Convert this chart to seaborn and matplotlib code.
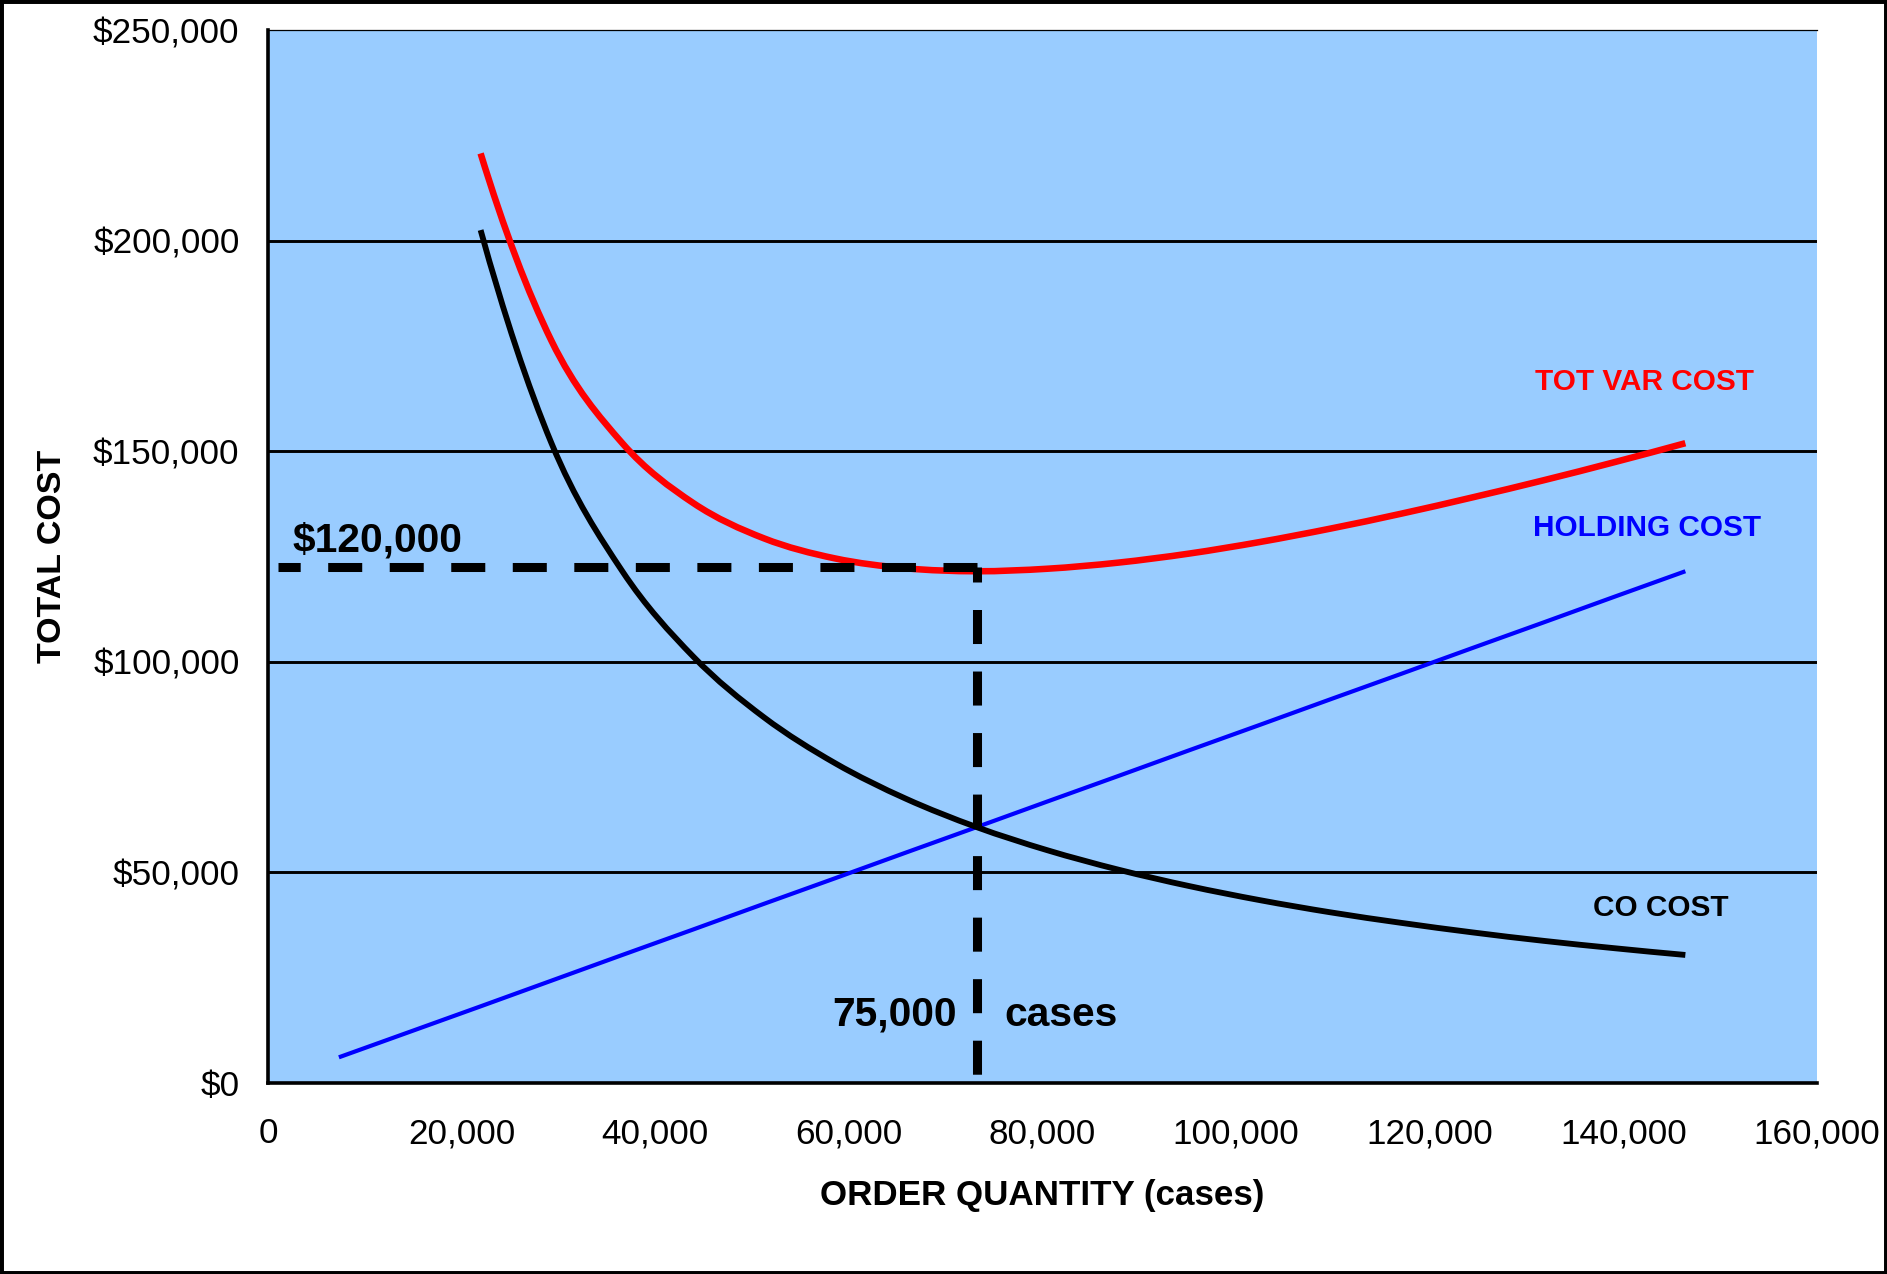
import matplotlib
matplotlib.use("Agg")
import matplotlib.pyplot as plt
from matplotlib.patches import Rectangle, PathPatch
from matplotlib.path import Path
from matplotlib.ticker import FuncFormatter, MultipleLocator
import numpy as np
import pandas as pd
import seaborn as sns

# Order quantities (cases) at which the costs were evaluated
order_qty = [7320, 14640, 21960, 29280, 36600, 43920, 51240, 58560, 65880, 73200,
             80520, 87840, 95160, 102480, 109800, 117120, 124440, 131760, 139080, 146400]

# Annual holding cost at each order quantity
holding_cost = [6100, 12150, 18200, 24300, 30400, 36450, 42550, 48600, 54700, 60750,
                66850, 72900, 79000, 85050, 91150, 97200, 103300, 109350, 115450, 121500]

# Ordering (CO) cost and total variable cost, available from the third quantity on
co_qty = order_qty[2:]
co_cost = [202500, 151900, 121500, 101250, 86800, 75950, 67500, 60750, 55250, 50650,
           46750, 43400, 40500, 38000, 35750, 33750, 32000, 30400]
tot_var_cost = [220700, 176200, 151900, 137700, 129300, 124550, 122200, 121500, 122100,
                123550, 125700, 128450, 131650, 135200, 139050, 143100, 147400, 151900]

# Optimum marked on the chart
opt_qty = 73200
opt_cost = 122500

sns.set_theme(style="white")
plt.rcParams["font.family"] = ["Liberation Sans", "DejaVu Sans"]
plt.rcParams["lines.scale_dashes"] = False
plt.rcParams["text.color"] = "black"
plt.rcParams["axes.labelcolor"] = "black"


def smooth_line(ax, xs, ys, color, lw, zorder=4):
    """Draw a series as a smoothed line: cubic Bezier segments through every point,
    Catmull-Rom tangents inside and parabolic tangents at both ends."""
    p = np.column_stack([np.asarray(xs, float), np.asarray(ys, float)])
    n = len(p)
    tang = np.zeros_like(p)
    tang[1:-1] = (p[2:] - p[:-2]) / 2.0
    tang[0] = 2.0 * (p[1] - p[0]) - tang[1]
    tang[-1] = 2.0 * (p[-1] - p[-2]) - tang[-2]
    verts = [tuple(p[0])]
    codes = [Path.MOVETO]
    for i in range(n - 1):
        c1 = p[i] + tang[i] / 3.0
        c2 = p[i + 1] - tang[i + 1] / 3.0
        verts += [tuple(c1), tuple(c2), tuple(p[i + 1])]
        codes += [Path.CURVE4] * 3
    patch = PathPatch(Path(verts, codes), fill=False, edgecolor=color, lw=lw,
                      capstyle="butt", joinstyle="round", zorder=zorder)
    ax.add_patch(patch)


fig = plt.figure(figsize=(18.87, 12.74), dpi=100)
fig.patch.set_facecolor("white")
ax = fig.add_axes([0.14203, 0.14992, 0.82088, 0.82653])
ax.set_facecolor("#99CCFF")

df_h = pd.DataFrame({"qty": order_qty, "cost": holding_cost})
sns.lineplot(data=df_h, x="qty", y="cost", ax=ax, color="#0000FF", lw=3.0,
             estimator=None, sort=False, zorder=4, solid_joinstyle="round",
             solid_capstyle="butt")

smooth_line(ax, co_qty, co_cost, "black", 4.2)
smooth_line(ax, co_qty, tot_var_cost, "#FF0000", 4.7)

# Dashed guide lines to the optimum
ax.plot([opt_qty, 1000], [opt_cost, opt_cost], color="black", lw=6.5,
        linestyle=(0, (24.5, 19.8)), dash_capstyle="butt", zorder=5)
ax.plot([opt_qty, opt_qty], [opt_cost, 1600], color="black", lw=6.5,
        linestyle=(13.7, (24.5, 19.8)), dash_capstyle="butt", zorder=5)

ax.set_xlim(0, 160000)
ax.set_ylim(0, 250000)
ax.xaxis.set_major_locator(MultipleLocator(20000))
ax.yaxis.set_major_locator(MultipleLocator(50000))
ax.xaxis.set_major_formatter(FuncFormatter(lambda v, p: f"{v:,.0f}"))
ax.yaxis.set_major_formatter(FuncFormatter(lambda v, p: f"${v:,.0f}"))

ax.grid(False)
for yv in [50000, 100000, 150000, 200000]:
    ax.axhline(yv, color="black", lw=2.1, zorder=2)

for side in ["left", "bottom"]:
    ax.spines[side].set_color("black")
    ax.spines[side].set_linewidth(2.6)
ax.spines["top"].set_color("black")
ax.spines["top"].set_linewidth(0.9)
ax.spines["right"].set_visible(False)

ax.tick_params(axis="both", which="major", direction="out", length=7.5, width=2.4,
               color="black", labelsize=25.3, labelcolor="black")
ax.tick_params(axis="y", pad=13)
ax.tick_params(axis="x", pad=17)
ax.tick_params(top=False, right=False)

ax.set_xlabel("ORDER QUANTITY (cases)", fontsize=25.2, fontweight="bold",
              va="center", color="black")
ax.xaxis.set_label_coords(0.5, -0.1064)
ax.set_ylabel("TOTAL COST", fontsize=24.5, fontweight="bold", va="center",
              color="black")
ax.yaxis.set_label_coords(-0.1394, 0.5)

ax.text(142130, 166430, "TOT VAR COST", color="#FF0000", fontsize=21.4,
        fontweight="bold", ha="center", va="center", zorder=6)
ax.text(142440, 131770, "HOLDING COST", color="#0000FF", fontsize=21.4,
        fontweight="bold", ha="center", va="center", zorder=6)
ax.text(143880, 41550, "CO COST", color="black", fontsize=21.4,
        fontweight="bold", ha="center", va="center", zorder=6)
ax.text(2580, 128900, "$120,000", color="black", fontsize=29.3,
        fontweight="bold", ha="left", va="center", zorder=6)
ax.text(71170, 16150, "75,000", color="black", fontsize=29.3,
        fontweight="bold", ha="right", va="center", zorder=6)
ax.text(76020, 16150, "cases", color="black", fontsize=29.3,
        fontweight="bold", ha="left", va="center", zorder=6)

# Outer frame around the whole chart
fig.patches.append(Rectangle((0, 0), 1, 1, transform=fig.transFigure, fill=False,
                             edgecolor="black", lw=5, zorder=10))

fig.savefig("out.png", dpi=100, facecolor="white")
